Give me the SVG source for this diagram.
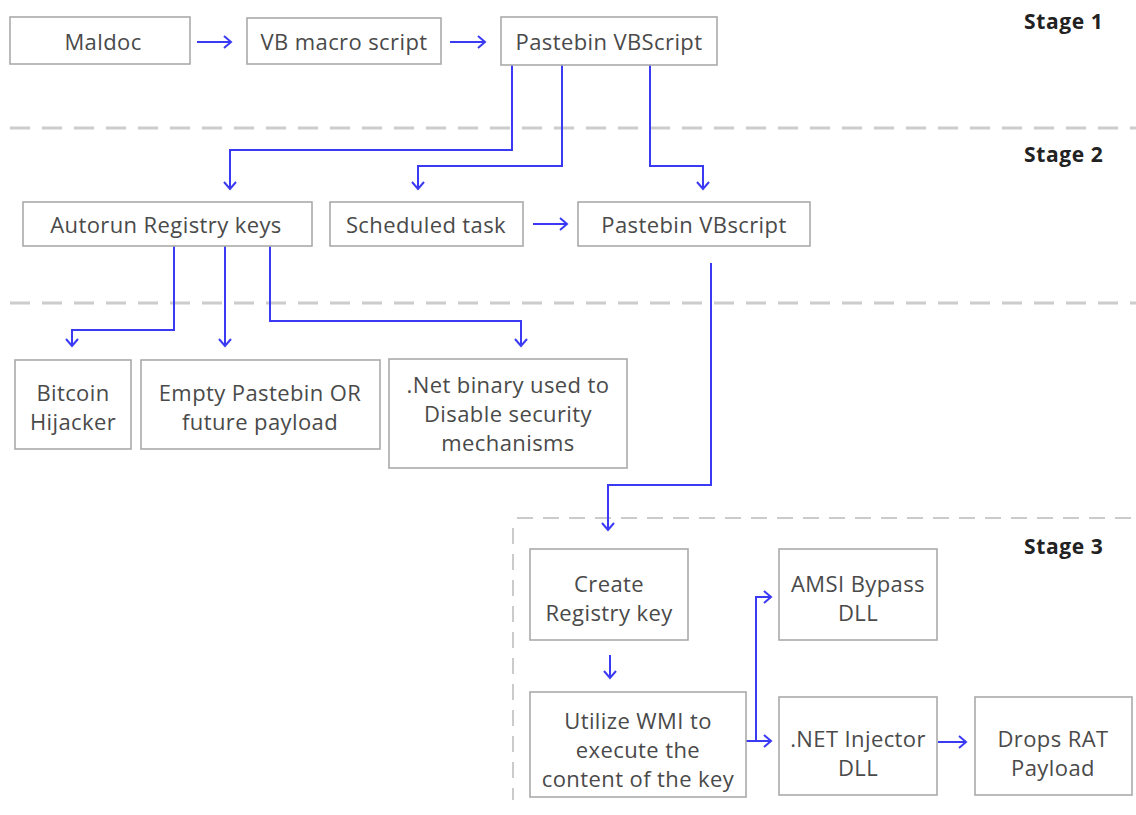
<svg xmlns="http://www.w3.org/2000/svg" width="1136" height="815" viewBox="0 0 1136 815">
<defs>
<marker id="arr" markerWidth="14" markerHeight="14" refX="10" refY="7" orient="auto" markerUnits="userSpaceOnUse">
<path d="M3,1 L10,7 L3,13" fill="none" stroke="#3a3af5" stroke-width="2"/>
</marker>
<style>
.box{fill:#fff;stroke:#aaaaaa;stroke-width:1.6}
.t{font-family:"Open Sans","Noto Sans",sans-serif;font-size:22px;letter-spacing:0.4px;fill:#4a4a4a;text-anchor:middle;dominant-baseline:central}
.st{font-family:"Open Sans","Noto Sans",sans-serif;font-size:21px;letter-spacing:0.6px;font-weight:bold;fill:#222}
.sep{stroke:#cccccc;stroke-width:3;stroke-dasharray:20 12;fill:none}
.sep3{stroke:#bbbbbb;stroke-width:1.5;stroke-dasharray:16 10;fill:none}
.c{fill:none;stroke:#3a3af5;stroke-width:2;marker-end:url(#arr)}
</style>
</defs>
<rect width="1136" height="815" fill="#fff"/>
<g id="separators">
<line class="sep" x1="10" y1="128" x2="1136" y2="128"/>
<line class="sep" x1="10" y1="303" x2="1136" y2="303"/>
<line class="sep3" x1="517" y1="518" x2="1136" y2="518"/>
<line class="sep3" x1="513" y1="528" x2="513" y2="800"/>
</g>
<g id="stage-labels">
<text class="st" x="1024" y="29">Stage 1</text>
<text class="st" x="1024" y="162">Stage 2</text>
<text class="st" x="1024" y="554">Stage 3</text>
</g>
<g id="connectors">
<line class="c" x1="197" y1="42" x2="231" y2="42"/>
<line class="c" x1="450" y1="42" x2="485" y2="42"/>
<polyline class="c" points="512,65 512,150 230,150 230,189"/>
<polyline class="c" points="562,65 562,166 418,166 418,189"/>
<polyline class="c" points="650,65 650,166 703,166 703,189"/>
<line class="c" x1="533" y1="224" x2="567" y2="224"/>
<polyline class="c" points="174,246 174,330 72,330 72,346"/>
<line class="c" x1="225" y1="246" x2="225" y2="346"/>
<polyline class="c" points="270,246 270,321 521,321 521,346"/>
<polyline class="c" points="711,263 711,485 608,485 608,530"/>
<line class="c" x1="610" y1="655" x2="610" y2="678"/>
<line class="c" x1="746" y1="741" x2="771" y2="741"/>
<polyline class="c" points="756,741 756,597 771,597"/>
<line class="c" x1="938" y1="742" x2="966" y2="742"/>
</g>
<g id="n-maldoc"><rect class="box" x="10" y="17" width="180" height="47"/><text class="t" x="103" y="41">Maldoc</text></g>
<g id="n-vbmacro"><rect class="box" x="247" y="18" width="194" height="46"/><text class="t" x="344" y="41">VB macro script</text></g>
<g id="n-pastebin1"><rect class="box" x="501" y="17" width="216" height="48"/><text class="t" x="609" y="41">Pastebin VBScript</text></g>
<g id="n-autorun"><rect class="box" x="23" y="202" width="289" height="44"/><text class="t" x="166" y="224">Autorun Registry keys</text></g>
<g id="n-sched"><rect class="box" x="330" y="202" width="193" height="44"/><text class="t" x="426" y="224">Scheduled task</text></g>
<g id="n-pastebin2"><rect class="box" x="578" y="202" width="232" height="44"/><text class="t" x="694" y="224">Pastebin VBscript</text></g>
<g id="n-bitcoin"><rect class="box" x="15" y="360" width="116" height="89"/><text class="t" x="73" y="392">Bitcoin</text><text class="t" x="73" y="421">Hijacker</text></g>
<g id="n-empty"><rect class="box" x="141" y="360" width="239" height="89"/><text class="t" x="260" y="392">Empty Pastebin OR</text><text class="t" x="260" y="421">future payload</text></g>
<g id="n-netbinary"><rect class="box" x="389" y="359" width="238" height="109"/><text class="t" x="508" y="384">.Net binary used to</text><text class="t" x="508" y="413">Disable security</text><text class="t" x="508" y="442">mechanisms</text></g>
<g id="n-createreg"><rect class="box" x="530" y="549" width="158" height="91"/><text class="t" x="609" y="583">Create</text><text class="t" x="609" y="612">Registry key</text></g>
<g id="n-amsi"><rect class="box" x="779" y="549" width="158" height="91"/><text class="t" x="858" y="583">AMSI Bypass</text><text class="t" x="858" y="612">DLL</text></g>
<g id="n-wmi"><rect class="box" x="530" y="692" width="216" height="105"/><text class="t" x="638" y="720">Utilize WMI to</text><text class="t" x="638" y="749">execute the</text><text class="t" x="638" y="778">content of the key</text></g>
<g id="n-injector"><rect class="box" x="779" y="697" width="158" height="98"/><text class="t" x="858" y="738">.NET Injector</text><text class="t" x="858" y="767">DLL</text></g>
<g id="n-rat"><rect class="box" x="975" y="697" width="157" height="98"/><text class="t" x="1053" y="738">Drops RAT</text><text class="t" x="1053" y="767">Payload</text></g>
</svg>
